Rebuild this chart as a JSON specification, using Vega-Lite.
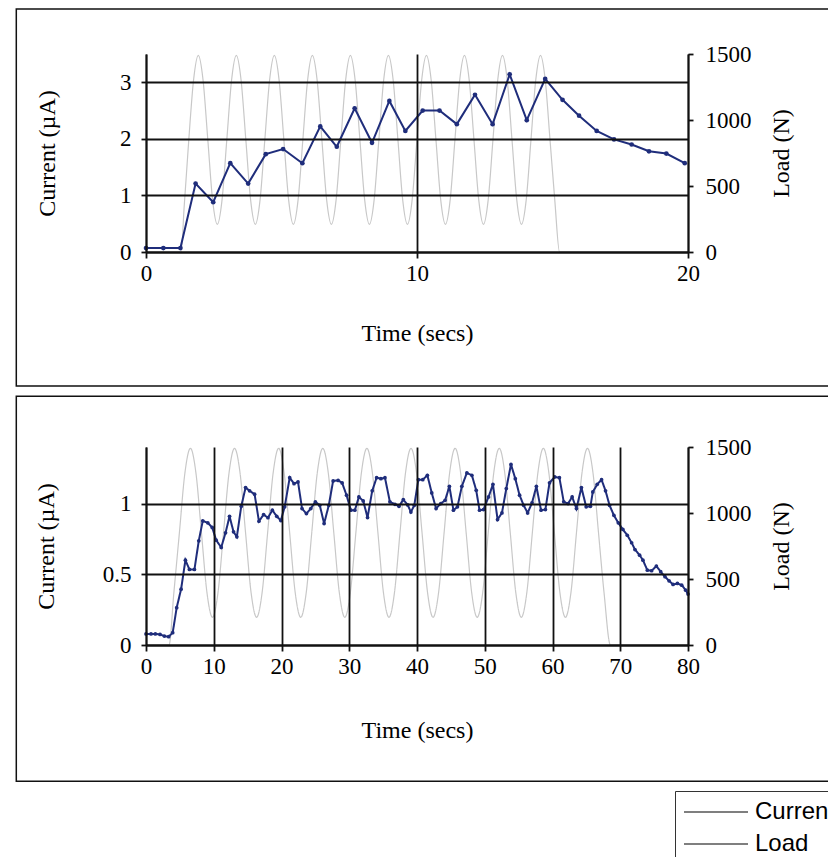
{
  "$schema": "https://vega.github.io/schema/vega-lite/v6.json",
  "background": "white",
  "padding": {"left": 15, "top": 8, "right": 0, "bottom": 0},
  "autosize": {"type": "pad"},
  "spacing": 8,
  "config": {
    "view": {"stroke": null},
    "font": "Liberation Serif",
    "axis": {
      "labelFont": "Liberation Serif", "titleFont": "Liberation Serif",
      "labelFontSize": 23, "titleFontSize": 24, "titleFontWeight": "normal",
      "labelColor": "#000", "titleColor": "#000",
      "domainColor": "#111", "domainWidth": 1.8,
      "tickColor": "#111", "tickWidth": 1.8,
      "gridColor": "#111", "gridWidth": 1.8, "gridOpacity": 1,
      "labelFlush": false
    }
  },
  "datasets": {
    "cur1": [{"t":0,"v":0.07},{"t":0.64,"v":0.07},{"t":1.27,"v":0.07},{"t":1.83,"v":1.21},{"t":2.48,"v":0.88},{"t":3.11,"v":1.57},{"t":3.77,"v":1.21},{"t":4.42,"v":1.73},{"t":5.06,"v":1.82},{"t":5.77,"v":1.57},{"t":6.43,"v":2.22},{"t":7.04,"v":1.86},{"t":7.7,"v":2.54},{"t":8.34,"v":1.93},{"t":8.98,"v":2.67},{"t":9.57,"v":2.14},{"t":10.21,"v":2.5},{"t":10.83,"v":2.5},{"t":11.47,"v":2.26},{"t":12.14,"v":2.78},{"t":12.79,"v":2.26},{"t":13.42,"v":3.14},{"t":14.05,"v":2.33},{"t":14.73,"v":3.06},{"t":15.37,"v":2.69},{"t":15.98,"v":2.41},{"t":16.63,"v":2.14},{"t":17.27,"v":1.99},{"t":17.92,"v":1.9},{"t":18.56,"v":1.78},{"t":19.2,"v":1.74},{"t":19.88,"v":1.57}],
    "load1": [{"t":0,"v":0},{"t":1.3,"v":0},{"t":1.404,"v":330},{"t":1.579,"v":850},{"t":1.755,"v":1303},{"t":1.93,"v":1490},
      {"t":2.105,"v":1303},{"t":2.281,"v":850},{"t":2.456,"v":397},{"t":2.632,"v":210},{"t":2.807,"v":397},{"t":2.982,"v":850},{"t":3.158,"v":1303},{"t":3.333,"v":1490},
      {"t":3.508,"v":1303},{"t":3.684,"v":850},{"t":3.859,"v":397},{"t":4.035,"v":210},{"t":4.21,"v":397},{"t":4.385,"v":850},{"t":4.561,"v":1303},{"t":4.736,"v":1490},
      {"t":4.911,"v":1303},{"t":5.087,"v":850},{"t":5.262,"v":397},{"t":5.438,"v":210},{"t":5.613,"v":397},{"t":5.788,"v":850},{"t":5.964,"v":1303},{"t":6.139,"v":1490},
      {"t":6.314,"v":1303},{"t":6.49,"v":850},{"t":6.665,"v":397},{"t":6.841,"v":210},{"t":7.016,"v":397},{"t":7.191,"v":850},{"t":7.367,"v":1303},{"t":7.542,"v":1490},
      {"t":7.717,"v":1303},{"t":7.893,"v":850},{"t":8.068,"v":397},{"t":8.244,"v":210},{"t":8.419,"v":397},{"t":8.594,"v":850},{"t":8.77,"v":1303},{"t":8.945,"v":1490},
      {"t":9.12,"v":1303},{"t":9.296,"v":850},{"t":9.471,"v":397},{"t":9.647,"v":210},{"t":9.822,"v":397},{"t":9.997,"v":850},{"t":10.173,"v":1303},{"t":10.348,"v":1490},
      {"t":10.523,"v":1303},{"t":10.699,"v":850},{"t":10.874,"v":397},{"t":11.05,"v":210},{"t":11.225,"v":397},{"t":11.4,"v":850},{"t":11.576,"v":1303},{"t":11.751,"v":1490},
      {"t":11.926,"v":1303},{"t":12.102,"v":850},{"t":12.277,"v":397},{"t":12.453,"v":210},{"t":12.628,"v":397},{"t":12.803,"v":850},{"t":12.979,"v":1303},{"t":13.154,"v":1490},
      {"t":13.329,"v":1303},{"t":13.505,"v":850},{"t":13.68,"v":397},{"t":13.856,"v":210},{"t":14.031,"v":397},{"t":14.206,"v":850},{"t":14.382,"v":1303},{"t":14.557,"v":1490},
      {"t":14.732,"v":1303},{"t":14.908,"v":850},{"t":15.083,"v":397},{"t":15.26,"v":0},{"t":20,"v":0}],
    "cur2": [{"t":0,"v":0.078},{"t":0.74,"v":0.078},{"t":1.38,"v":0.078},{"t":2.07,"v":0.075},{"t":2.71,"v":0.063},{"t":3.35,"v":0.059},{"t":3.94,"v":0.087},{"t":4.53,"v":0.264},{"t":5.18,"v":0.395},{"t":5.82,"v":0.6},{"t":6.41,"v":0.534},{"t":7.15,"v":0.534},{"t":7.79,"v":0.737},{"t":8.38,"v":0.878},{"t":9.12,"v":0.864},{"t":9.77,"v":0.831},{"t":10.36,"v":0.741},{"t":11.1,"v":0.69},{"t":11.74,"v":0.793},{"t":12.33,"v":0.91},{"t":12.92,"v":0.8},{"t":13.41,"v":0.765},{"t":14.06,"v":0.981},{"t":14.7,"v":1.113},{"t":15.29,"v":1.09},{"t":16.03,"v":1.066},{"t":16.67,"v":0.875},{"t":17.36,"v":0.922},{"t":18.0,"v":0.9},{"t":18.65,"v":0.953},{"t":19.3,"v":0.91},{"t":19.9,"v":0.88},
      {"t":20.47,"v":0.977},{"t":21.21,"v":1.183},{"t":21.85,"v":1.141},{"t":22.44,"v":1.153},{"t":23.03,"v":0.965},{"t":23.68,"v":0.929},{"t":24.32,"v":0.965},{"t":25.0,"v":1.012},{"t":25.65,"v":0.988},{"t":26.29,"v":0.859},{"t":26.98,"v":0.988},{"t":27.62,"v":1.16},{"t":28.36,"v":1.164},{"t":28.95,"v":1.146},{"t":29.6,"v":1.059},{"t":30.24,"v":0.953},{"t":30.83,"v":0.953},{"t":31.42,"v":1.047},{"t":32.06,"v":1.019},{"t":32.7,"v":0.901},{"t":33.39,"v":1.09},{"t":34.04,"v":1.183},{"t":34.67,"v":1.176},{"t":35.27,"v":1.183},{"t":36.0,"v":1.012},{"t":36.75,"v":0.995},{"t":37.34,"v":0.981},{"t":37.98,"v":1.028},{"t":38.63,"v":0.99},{"t":39.1,"v":0.94},{"t":39.6,"v":0.988},
      {"t":40.2,"v":1.169},{"t":40.85,"v":1.169},{"t":41.53,"v":1.2},{"t":42.18,"v":1.075},{"t":42.82,"v":0.965},{"t":43.51,"v":1.0},{"t":44.15,"v":1.023},{"t":44.78,"v":1.122},{"t":45.38,"v":0.953},{"t":45.97,"v":0.977},{"t":46.62,"v":1.122},{"t":47.36,"v":1.217},{"t":48.1,"v":1.2},{"t":48.74,"v":1.094},{"t":49.23,"v":0.953},{"t":49.82,"v":0.958},{"t":50.56,"v":1.047},{"t":51.21,"v":1.136},{"t":51.89,"v":0.887},{"t":52.54,"v":0.934},{"t":53.18,"v":1.106},{"t":53.87,"v":1.277},{"t":54.51,"v":1.176},{"t":55.14,"v":1.059},{"t":55.74,"v":0.988},{"t":56.33,"v":0.934},{"t":56.98,"v":1.005},{"t":57.62,"v":1.122},{"t":58.31,"v":0.953},{"t":58.95,"v":0.958},{"t":59.56,"v":1.147},
      {"t":60.33,"v":1.188},{"t":61.02,"v":1.183},{"t":61.66,"v":1.012},{"t":62.3,"v":1.0},{"t":62.9,"v":1.047},{"t":63.53,"v":0.965},{"t":64.27,"v":1.113},{"t":64.97,"v":0.977},{"t":65.6,"v":0.981},{"t":65.95,"v":1.082},{"t":66.6,"v":1.136},{"t":67.24,"v":1.169},{"t":67.83,"v":1.09},{"t":68.42,"v":0.988},{"t":69.06,"v":0.917},{"t":69.71,"v":0.864},{"t":70.39,"v":0.817},{"t":71.04,"v":0.776},{"t":71.68,"v":0.723},{"t":72.17,"v":0.675},{"t":72.86,"v":0.635},{"t":73.35,"v":0.6},{"t":74.0,"v":0.529},{"t":74.63,"v":0.525},{"t":75.33,"v":0.558},{"t":75.97,"v":0.518},{"t":76.6,"v":0.483},{"t":77.2,"v":0.454},{"t":77.79,"v":0.428},{"t":78.44,"v":0.435},{"t":79.07,"v":0.423},{"t":79.66,"v":0.388},{"t":80.0,"v":0.36}],
    "load2": [{"t":0,"v":0},{"t":3.4,"v":0},{"t":4.114,"v":397},{"t":4.928,"v":850},{"t":5.742,"v":1303},{"t":6.556,"v":1490},
      {"t":7.37,"v":1303},{"t":8.184,"v":850},{"t":8.998,"v":397},{"t":9.812,"v":210},{"t":10.626,"v":397},{"t":11.44,"v":850},{"t":12.254,"v":1303},{"t":13.068,"v":1490},
      {"t":13.882,"v":1303},{"t":14.696,"v":850},{"t":15.51,"v":397},{"t":16.324,"v":210},{"t":17.138,"v":397},{"t":17.952,"v":850},{"t":18.766,"v":1303},{"t":19.58,"v":1490},
      {"t":20.394,"v":1303},{"t":21.208,"v":850},{"t":22.022,"v":397},{"t":22.836,"v":210},{"t":23.65,"v":397},{"t":24.464,"v":850},{"t":25.278,"v":1303},{"t":26.092,"v":1490},
      {"t":26.906,"v":1303},{"t":27.72,"v":850},{"t":28.534,"v":397},{"t":29.348,"v":210},{"t":30.162,"v":397},{"t":30.976,"v":850},{"t":31.79,"v":1303},{"t":32.604,"v":1490},
      {"t":33.418,"v":1303},{"t":34.232,"v":850},{"t":35.046,"v":397},{"t":35.86,"v":210},{"t":36.674,"v":397},{"t":37.488,"v":850},{"t":38.302,"v":1303},{"t":39.116,"v":1490},
      {"t":39.93,"v":1303},{"t":40.744,"v":850},{"t":41.558,"v":397},{"t":42.372,"v":210},{"t":43.186,"v":397},{"t":44.0,"v":850},{"t":44.814,"v":1303},{"t":45.628,"v":1490},
      {"t":46.442,"v":1303},{"t":47.256,"v":850},{"t":48.07,"v":397},{"t":48.884,"v":210},{"t":49.698,"v":397},{"t":50.512,"v":850},{"t":51.326,"v":1303},{"t":52.14,"v":1490},
      {"t":52.954,"v":1303},{"t":53.768,"v":850},{"t":54.582,"v":397},{"t":55.396,"v":210},{"t":56.21,"v":397},{"t":57.024,"v":850},{"t":57.838,"v":1303},{"t":58.652,"v":1490},
      {"t":59.466,"v":1303},{"t":60.28,"v":850},{"t":61.094,"v":397},{"t":61.908,"v":210},{"t":62.722,"v":397},{"t":63.536,"v":850},{"t":64.35,"v":1303},{"t":65.164,"v":1490},
      {"t":65.978,"v":1303},{"t":66.792,"v":850},{"t":67.606,"v":397},{"t":68.55,"v":0},{"t":80,"v":0}]
  },
  "vconcat": [
    {
      "width": 542, "height": 198,
      "layer": [
        {
          "data": {"name": "load1"},
          "mark": {"type": "line", "color": "#c8c8c8", "strokeWidth": 1.2, "interpolate": "monotone"},
          "encoding": {
            "x": {"field": "t", "type": "quantitative", "scale": {"domain": [0, 20]}, "title": "Time (secs)",
                  "axis": {"values": [0, 10, 20], "grid": true, "tickSize": 6, "labelPadding": 4, "titlePadding": 36, "format": "~g", "zindex": 1}},
            "y": {"field": "v", "type": "quantitative", "scale": {"domain": [0, 1500]}, "title": "Load (N)",
                  "axis": {"orient": "right", "values": [0, 500, 1000, 1500], "grid": false, "tickSize": 5, "labelPadding": 12, "format": "d", "titlePadding": 18, "titleAngle": 270, "titleBaseline": "top", "zindex": 1}}
          }
        },
        {
          "data": {"name": "cur1"},
          "mark": {"type": "line", "color": "#1f2d7b", "strokeWidth": 2, "point": {"filled": true, "size": 22, "color": "#1f2d7b"}},
          "encoding": {
            "x": {"field": "t", "type": "quantitative", "scale": {"domain": [0, 20]}},
            "y": {"field": "v", "type": "quantitative", "scale": {"domain": [0, 3.5]}, "title": "Current (µA)",
                  "axis": {"orient": "left", "values": [0, 1, 2, 3], "grid": true, "tickSize": 5, "labelPadding": 10, "titlePadding": 60, "format": "~g", "zindex": 1}}
          }
        },
        {
          "data": {"values": [{}]},
          "mark": {"type": "rect", "fill": null, "stroke": "#111", "strokeWidth": 1.5},
          "encoding": {
            "x": {"datum": -4.786, "type": "quantitative", "scale": {"domain": [0, 20]}},
            "x2": {"datum": 25.63},
            "y": {"datum": 4.2955, "type": "quantitative", "scale": {"domain": [0, 3.5]}, "axis": null},
            "y2": {"datum": -2.3687}
          }
        }
      ],
      "resolve": {"scale": {"y": "independent"}}
    },
    {
      "width": 542, "height": 198,
      "layer": [
        {
          "data": {"name": "load2"},
          "mark": {"type": "line", "color": "#c8c8c8", "strokeWidth": 1.2, "interpolate": "monotone"},
          "encoding": {
            "x": {"field": "t", "type": "quantitative", "scale": {"domain": [0, 80]}, "title": "Time (secs)",
                  "axis": {"values": [0, 10, 20, 30, 40, 50, 60, 70, 80], "grid": true, "tickSize": 6, "labelPadding": 4, "titlePadding": 40, "format": "~g", "zindex": 1}},
            "y": {"field": "v", "type": "quantitative", "scale": {"domain": [0, 1500]}, "title": "Load (N)",
                  "axis": {"orient": "right", "values": [0, 500, 1000, 1500], "grid": false, "tickSize": 5, "labelPadding": 12, "format": "d", "titlePadding": 18, "titleAngle": 270, "titleBaseline": "top", "zindex": 1}},
            "strokeDash": {"datum": "Load", "type": "nominal",
                      "scale": {"domain": ["Current", "Load"], "range": [[1, 0], [1, 0]]},
                      "legend": {"orient": "none", "legendX": 529, "legendY": 737, "title": null, "symbolType": "stroke", "symbolSize": 4096, "symbolStrokeWidth": 1.5, "symbolStrokeColor": "#555",
                                 "clipHeight": 26, "labelFont": "Liberation Sans", "labelFontSize": 24, "labelColor": "#000", "strokeColor": "#333", "padding": 8, "rowPadding": 6, "labelOffset": 6,
                                 "encode": {"symbols": {"update": {"stroke": {"value": "#555"}}}}}}
          }
        },
        {
          "data": {"name": "cur2"},
          "mark": {"type": "line", "color": "#1f2d7b", "strokeWidth": 2, "point": {"filled": true, "size": 14, "color": "#1f2d7b"}},
          "encoding": {
            "x": {"field": "t", "type": "quantitative", "scale": {"domain": [0, 80]}},
            "y": {"field": "v", "type": "quantitative", "scale": {"domain": [0, 1.4]}, "title": "Current (µA)",
                  "axis": {"orient": "left", "values": [0, 0.5, 1], "grid": true, "tickSize": 5, "labelPadding": 10, "titlePadding": 44, "format": "~g", "zindex": 1}},
            "strokeDash": {"datum": "Current", "type": "nominal"}
          }
        },
        {
          "data": {"values": [{}]},
          "mark": {"type": "rect", "fill": null, "stroke": "#111", "strokeWidth": 1.5},
          "encoding": {
            "x": {"datum": -19.144, "type": "quantitative", "scale": {"domain": [0, 80]}},
            "x2": {"datum": 102.5},
            "y": {"datum": 1.7585, "type": "quantitative", "scale": {"domain": [0, 1.4]}, "axis": null},
            "y2": {"datum": -0.9637}
          }
        }
      ],
      "resolve": {"scale": {"y": "independent"}}
    }
  ]
}
